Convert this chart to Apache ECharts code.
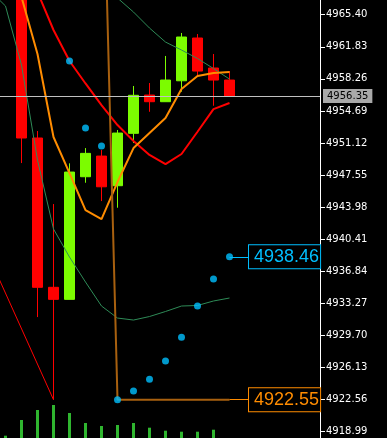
<!DOCTYPE html>
<html>
<head>
<meta charset="utf-8">
<script src="https://cdn.jsdelivr.net/npm/echarts@6/dist/echarts.min.js"></script>
<style>
html,body{margin:0;padding:0;background:#000;}
#chart{width:387px;height:438px;}
</style>
</head>
<body>
<div id="chart"></div>
<script>
// bar indices -2 .. 13
const firstIdx = -2;
const opens  = [null, null, 4969.80, 4951.68, 4935.06, 4933.72, 4947.37, 4949.67, 4946.37, 4952.20, 4956.46, 4955.72, 4958.05, 4962.81, 4959.47, 4958.13];
const closes = [null, null, 4951.68, 4935.06, 4933.72, 4947.89, 4949.97, 4946.25, 4952.23, 4956.43, 4955.72, 4958.13, 4962.92, 4959.13, 4958.13, 4956.35];
const lows   = [null, null, 4948.89, 4931.75, 4922.55, 4933.72, 4946.70, 4944.66, 4943.92, 4951.12, 4954.60, 4955.72, 4956.83, 4958.58, 4955.27, 4956.35];
const highs  = [null, null, 4970.60, 4952.46, 4944.33, 4948.86, 4950.56, 4950.34, 4952.57, 4957.47, 4957.80, 4960.81, 4963.37, 4963.25, 4961.03, 4959.13];
const volumes = [null, 23, 180, 280, 330, 250, 150, 120, 130, 150, 103, 73, 63, 63, 83, 0];
const maOrange = [null, null, 4967.37, 4961.03, 4951.79, 4947.78, 4943.66, 4942.66, 4946.78, 4950.56, 4952.23, 4953.90, 4957.13, 4958.58, 4958.91, 4959.02];
const maRed = [null, null, 4972.20, 4967.93, 4963.70, 4960.25, 4957.75, 4955.35, 4953.12, 4951.34, 4949.79, 4948.78, 4949.90, 4952.38, 4954.90, 4955.57];
const bandLower = [4968.15, 4966.37, 4959.80, 4949.23, 4941.55, 4938.43, 4935.65, 4932.98, 4931.64, 4931.42, 4931.81, 4932.37, 4932.98, 4933.04, 4933.54, 4933.87];
const bandUpper = [null, null, null, null, null, null, null, 4969.26, 4967.26, 4965.70, 4963.92, 4962.36, 4961.47, 4960.53, 4959.41, 4958.24];
const sar = [null, null, null, null, null, 4960.25, 4952.79, 4950.79, 4922.55, 4923.52, 4924.82, 4926.86, 4929.50, 4932.98, 4935.99, 4938.46];
const stopLine = [null, null, null, null, null, null, null, 4990.30, 4922.55, 4922.55, 4922.55, 4922.55, 4922.55, 4922.55, 4922.55, 4922.55];
const zigzag = [[-6, 4954.17], [2, 4922.55]];
const tickLabels = ['4918.99','4922.56','4926.13','4929.70','4933.27','4936.84','4940.41','4943.98','4947.55','4951.12','4954.69','4958.26','4961.83','4965.40'];

const tickVals = tickLabels.map(Number);
const idx = opens.map((_, i) => firstIdx + i);
const lastIdx = idx[idx.length - 1];
const lastClose = closes[closes.length - 1];
const sarLast = sar[sar.length - 1];
const stopLast = stopLine[stopLine.length - 1];

function pairs(arr) {
  const out = [];
  arr.forEach((v, i) => { if (v != null) out.push([idx[i], v]); });
  return out;
}
const candleData = [];
opens.forEach((o, i) => {
  if (o != null) candleData.push([idx[i], o, closes[i], lows[i], highs[i]]);
});
const volData = pairs(volumes);

const chart = echarts.init(document.getElementById('chart'), null, {renderer: 'canvas'});
const xMin = -1.34375, xMax = 18.65625;
const labelEnd = lastIdx + 1.22;

const bigLabel = (color, value) => ({
  show: true,
  position: 'end',
  distance: 0,
  formatter: () => value.toFixed(2),
  fontFamily: 'Liberation Sans',
  fontSize: 18,
  lineHeight: 18,
  color: color,
  backgroundColor: '#000',
  borderColor: color,
  borderWidth: 1,
  padding: [3, 1, 2, 5]
});

chart.setOption({
  animation: false,
  backgroundColor: '#000',
  grid: [
    {left: 0, top: 0, right: 67, bottom: 0},
    {left: 0, right: 67, bottom: 0, height: 100}
  ],
  xAxis: [
    {type: 'value', gridIndex: 0, min: xMin, max: xMax, show: false},
    {type: 'value', gridIndex: 1, min: xMin, max: xMax, show: false}
  ],
  yAxis: [
    {
      type: 'value', gridIndex: 0, position: 'right', min: 4918.29, max: 4967.04, scale: true,
      splitLine: {show: false},
      axisLine: {show: true, onZero: false, lineStyle: {color: '#ffffff', width: 1}},
      axisTick: {show: true, inside: false, length: 5, lineStyle: {color: '#ffffff'}, customValues: tickVals},
      axisLabel: {
        show: true, color: '#ffffff', fontFamily: 'DejaVu Sans', fontSize: 10, margin: 6,
        customValues: tickVals,
        formatter: (v) => Number(v).toFixed(2)
      }
    },
    {type: 'value', gridIndex: 1, min: 0, max: 1000, show: false, axisLine: {onZero: false}}
  ],
  series: [
    {
      type: 'bar', xAxisIndex: 1, yAxisIndex: 1, data: volData, barWidth: 3,
      itemStyle: {color: '#2fb52f'}, silent: true
    },
    {
      type: 'candlestick', xAxisIndex: 0, yAxisIndex: 0, data: candleData,
      encode: {x: 0, y: [1, 2, 3, 4]},
      barWidth: 10, z: 2,
      itemStyle: {color: '#7cfc00', color0: '#ff0000', borderColor: '#7cfc00', borderColor0: '#ff0000', borderWidth: 1},
      markLine: {
        silent: true, symbol: ['none', 'none'], z: 4,
        lineStyle: {color: '#c0c0c0', width: 1, type: 'solid'},
        label: {
          show: true, position: 'end', distance: 3,
          formatter: () => lastClose.toFixed(2),
          fontFamily: 'DejaVu Sans', fontSize: 10, lineHeight: 11, color: '#000',
          backgroundColor: '#a9a9a9', padding: [2, 4, 1, 4]
        },
        data: [{yAxis: lastClose}]
      }
    },
    {type: 'line', data: pairs(bandUpper), symbol: 'none', lineStyle: {color: '#2e8b57', width: 1}, z: 3},
    {type: 'line', data: pairs(bandLower), symbol: 'none', lineStyle: {color: '#2e8b57', width: 1}, z: 3},
    {type: 'line', data: zigzag, symbol: 'none', lineStyle: {color: '#ff0000', width: 1}, z: 3},
    {type: 'line', data: pairs(maRed), symbol: 'none', lineStyle: {color: '#ff0000', width: 2}, z: 3},
    {type: 'line', data: pairs(maOrange), symbol: 'none', lineStyle: {color: '#ff8c00', width: 2}, z: 3},
    {
      type: 'line', data: pairs(stopLine), symbol: 'none', lineStyle: {color: '#a8600f', width: 2}, z: 3,
      markLine: {
        silent: true, symbol: ['none', 'none'],
        lineStyle: {color: '#ff8c00', width: 1, type: 'solid'},
        label: bigLabel('#ff8c00', stopLast),
        data: [[{coord: [lastIdx, stopLast]}, {coord: [labelEnd, stopLast]}]]
      }
    },
    {
      type: 'scatter', data: pairs(sar), symbolSize: 7, itemStyle: {color: '#00bfff'}, z: 5,
      markLine: {
        silent: true, symbol: ['none', 'none'],
        lineStyle: {color: '#00bfff', width: 1, type: 'solid'},
        label: bigLabel('#00bfff', sarLast),
        data: [[{coord: [lastIdx, sarLast]}, {coord: [labelEnd, sarLast]}]]
      }
    }
  ]
});
</script>
</body>
</html>
